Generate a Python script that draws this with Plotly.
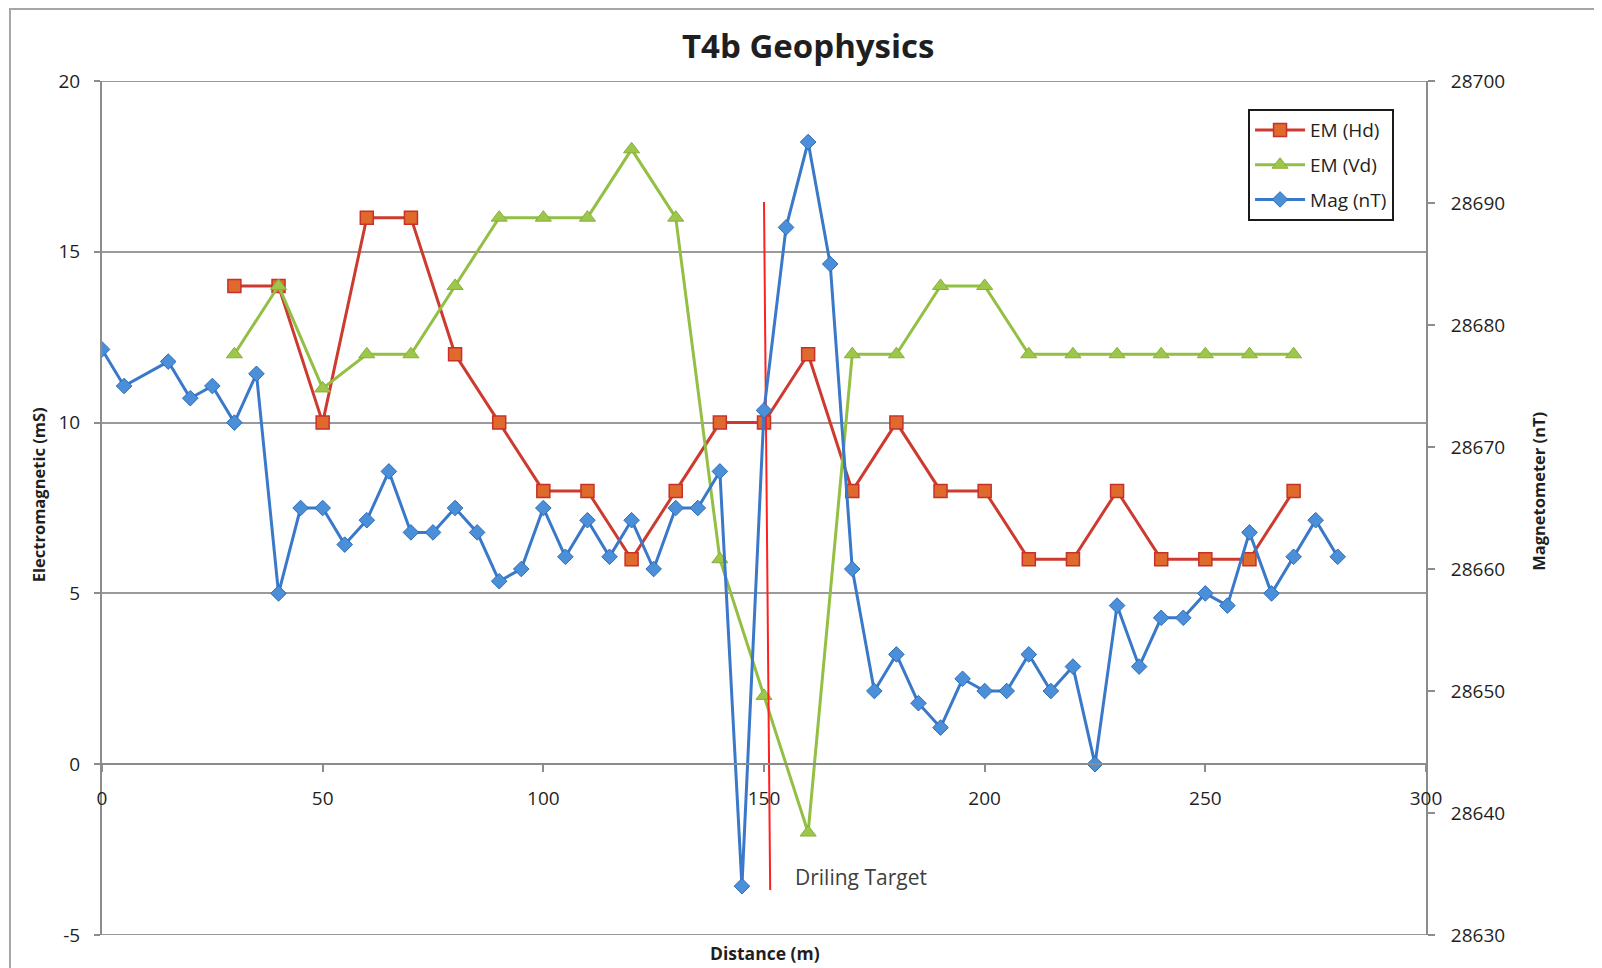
import plotly.graph_objects as go

# ---- data ----
mag_x = [0, 5, 15, 20, 25, 30, 35, 40, 45, 50, 55, 60, 65, 70, 75, 80, 85, 90, 95,
         100, 105, 110, 115, 120, 125, 130, 135, 140, 145, 150, 155, 160, 165, 170,
         175, 180, 185, 190, 195, 200, 205, 210, 215, 220, 225, 230, 235, 240, 245,
         250, 255, 260, 265, 270, 275, 280]
mag_nt = [28678, 28675, 28677, 28674, 28675, 28672, 28676,
          28658, 28665, 28665, 28662, 28664, 28668, 28663, 28663, 28665, 28663, 28659, 28660,
          28665, 28661, 28664, 28661, 28664, 28660, 28665, 28665, 28668, 28634, 28673, 28688,
          28695, 28685, 28660, 28650, 28653, 28649, 28647, 28651, 28650, 28650, 28653, 28650,
          28652, 28644, 28657, 28652, 28656, 28656, 28658, 28657, 28663, 28658, 28661, 28664, 28661]

em_x = [30, 40, 50, 60, 70, 80, 90, 100, 110, 120, 130, 140, 150, 160, 170, 180,
        190, 200, 210, 220, 230, 240, 250, 260, 270]
em_hd = [14, 14, 10, 16, 16, 12, 10, 8, 8, 6, 8, 10, 10, 12, 8, 10, 8, 8, 6, 6, 8, 6, 6, 6, 8]
em_vd = [12, 14, 11, 12, 12, 14, 16, 16, 16, 18, 16, 6, 2, -2, 12, 12, 14, 14, 12, 12, 12, 12, 12, 12, 12]

drill_x = [150.0, 151.4]
drill_y = [16.46, -3.68]
drill_label = "Driling Target"
drill_label_x = 156.6
drill_label_y = -3.3

x_ticks = [0, 50, 100, 150, 200, 250, 300]
em_ticks = [-5, 0, 5, 10, 15, 20]
mag_ticks = [28630, 28640, 28650, 28660, 28670, 28680, 28690, 28700]

FONT = "Open Sans"
TXT = "#1f1f1f"
GRID = "#9A9A9A"
AXIS = "#8C8C8C"

fig = go.Figure()

fig.add_trace(go.Scatter(
    x=em_x, y=em_hd, name="EM (Hd)", mode="lines+markers", legendgroup="a",
    line=dict(color="#CD3B30", width=3),
    marker=dict(symbol="square", size=13, color="#DF6A2C",
                line=dict(color="#C8302A", width=1.5)),
    yaxis="y"))
fig.add_trace(go.Scatter(
    x=em_x, y=em_vd, name="EM (Vd)", mode="lines+markers", legendgroup="b",
    line=dict(color="#93BF44", width=3),
    marker=dict(symbol="triangle-up", size=14, color="#9DC64A",
                line=dict(color="#86B038", width=1)),
    yaxis="y"))
fig.add_trace(go.Scatter(
    x=mag_x, y=mag_nt, name="Mag (nT)", mode="lines+markers", legendgroup="c",
    line=dict(color="#3A78C9", width=3),
    marker=dict(symbol="diamond", size=12, color="#4A8FD8",
                line=dict(color="#2F6DB8", width=1)),
    yaxis="y2"))
fig.add_trace(go.Scatter(
    x=drill_x, y=drill_y, mode="lines", showlegend=False, hoverinfo="skip",
    line=dict(color="#FF2020", width=2), yaxis="y"))

fig.add_annotation(x=drill_label_x, y=drill_label_y, xref="x", yref="y", text=drill_label,
                   showarrow=False, xanchor="left", yanchor="middle",
                   font=dict(family=FONT, size=21, color="#404040"))

# titles
fig.add_annotation(x=0.533, y=1.042, xref="paper", yref="paper", text="<b>T4b Geophysics</b>",
                   showarrow=False, xanchor="center", yanchor="middle",
                   font=dict(family=FONT, size=33, color=TXT))
fig.add_annotation(x=-0.0483, y=0.515, xref="paper", yref="paper",
                   text="<b>Electromagnetic (mS)</b>", textangle=-90,
                   showarrow=False, xanchor="center", yanchor="middle",
                   font=dict(family=FONT, size=16.5, color=TXT))
fig.add_annotation(x=1.0854, y=0.519, xref="paper", yref="paper",
                   text="<b>Magnetometer (nT)</b>", textangle=-90,
                   showarrow=False, xanchor="center", yanchor="middle",
                   font=dict(family=FONT, size=16.5, color=TXT))
fig.add_annotation(x=0.5007, y=-0.0211, xref="paper", yref="paper",
                   text="<b>Distance (m)</b>",
                   showarrow=False, xanchor="center", yanchor="middle",
                   font=dict(family=FONT, size=17.5, color=TXT))

# outer chart border
fig.add_shape(type="rect", xref="paper", yref="paper",
              x0=-0.0695, x1=1.2, y0=-0.1, y1=1.0843,
              line=dict(color="#A6A6A6", width=2), fillcolor="rgba(0,0,0,0)", layer="below")
# gridlines at the range ends (top and bottom of plot area)
for yv in (em_ticks[0], em_ticks[-1]):
    fig.add_shape(type="line", xref="paper", yref="y", x0=0, x1=1, y0=yv, y1=yv,
                  line=dict(color=GRID, width=2), layer="below")

fig.update_layout(
    width=1594, height=960,
    margin=dict(l=94, r=176, t=73, b=33),
    paper_bgcolor="white", plot_bgcolor="white",
    font=dict(family=FONT, size=19, color=TXT),
    showlegend=True,
    legend=dict(x=0.8656, y=0.967, xanchor="left", yanchor="top",
                bordercolor="#1a1a1a", borderwidth=2, bgcolor="white",
                font=dict(family=FONT, size=19, color=TXT),
                tracegroupgap=7, itemwidth=50),
    xaxis=dict(range=[0, 300], tickvals=x_ticks, anchor="free", position=0.2,
               showgrid=False, zeroline=False, showline=True, linecolor=AXIS,
               linewidth=2, ticks="outside", ticklen=7, tickwidth=2, tickcolor=AXIS,
               ticklabelstandoff=10, tickfont=dict(size=19)),
    yaxis=dict(range=[-5, 20], tickvals=em_ticks, ticktext=[str(v) for v in em_ticks],
               showgrid=True, gridcolor=GRID,
               gridwidth=2, zeroline=False, showline=True, linecolor=AXIS,
               linewidth=2, ticks="outside", ticklen=6, tickwidth=2, tickcolor=AXIS,
               ticklabelstandoff=10, tickfont=dict(size=19)),
    yaxis2=dict(range=[28630, 28700], tickvals=mag_ticks, tickformat="d",
                overlaying="y", side="right",
                showgrid=False, zeroline=False, showline=True, linecolor=AXIS,
                linewidth=2, ticks="outside", ticklen=7, tickwidth=2, tickcolor=AXIS,
                ticklabelstandoff=12, tickfont=dict(size=19)),
)

fig.write_html("out.html")
